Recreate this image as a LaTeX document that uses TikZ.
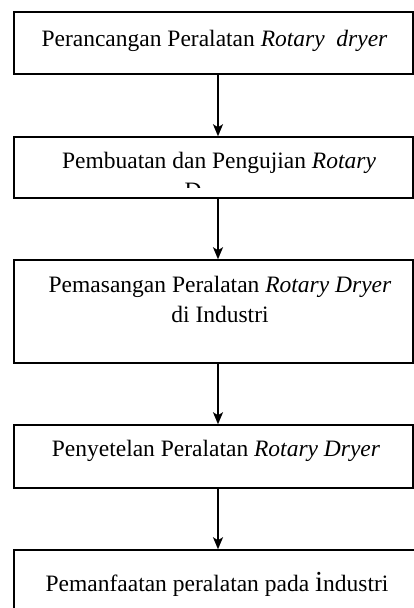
\documentclass[tikz,border=0pt]{standalone}
\usepackage{fontspec}
\setmainfont{Liberation Serif}
\usetikzlibrary{arrows.meta}
\tikzset{
  stage/.style={draw=black,line width=1.5pt,minimum width=399pt,inner sep=0pt},
  stagetext/.style={inner sep=0pt,align=center},
  flow/.style={line width=1.5pt,-{Stealth[length=12pt,width=10pt,inset=3pt]}}
}

\begin{document}
\begin{tikzpicture}[x=1pt,y=-1pt,font=\fontsize{23.5}{30}\selectfont]
\useasboundingbox (0,0) rectangle (414,608);
\clip (0,0) rectangle (414,608);

% boxes
\node[stage,minimum height=62pt] (b1) at (213.5,43) {};
\node[stage,minimum height=61pt] (b2) at (213.5,167.5) {};
\node[stage,minimum height=103pt] (b3) at (213.5,311.5) {};
\node[stage,minimum height=63pt] (b4) at (213.5,456.5) {};
\node[stage,minimum width=420pt,minimum height=80pt] (b5) at (224,590) {};

% texts
\node[stagetext,anchor=base] (t1) at (214.5,46.7) {Perancangan Peralatan \textit{Rotary}\ \ \textit{dryer}};
\node[stagetext,anchor=base] (t2) at (219,168.3) {Pembuatan dan Pengujian \textit{Rotary}};
\begin{scope}
\clip ([yshift=11pt]b2.south west) rectangle (b2.north east);
\node[stagetext,anchor=base] (t2b) at (193,198) {D};
\end{scope}
\node[stagetext,anchor=north] (t3) at (220,276) {Pemasangan Peralatan \textit{Rotary Dryer}\\di Industri};
\node[stagetext,anchor=base] (t4) at (216,456) {Penyetelan Peralatan \textit{Rotary Dryer}};
\node[stagetext,anchor=base] (t5) at (217,591.7) {Pemanfaatan peralatan pada {\fontsize{29}{30}\selectfont i}ndustri};

% arrows
\draw[flow] ([xshift=4.5pt]b1.south) -- ([xshift=4.5pt]b2.north);
\draw[flow] ([xshift=4.5pt]b2.south) -- ([xshift=4.5pt]b3.north);
\draw[flow] ([xshift=4.5pt]b3.south) -- ([xshift=4.5pt]b4.north);
\draw[flow] ([xshift=4.5pt]b4.south) -- ([xshift=4.5pt]b4.south |- b5.north);

\end{tikzpicture}
\end{document}
